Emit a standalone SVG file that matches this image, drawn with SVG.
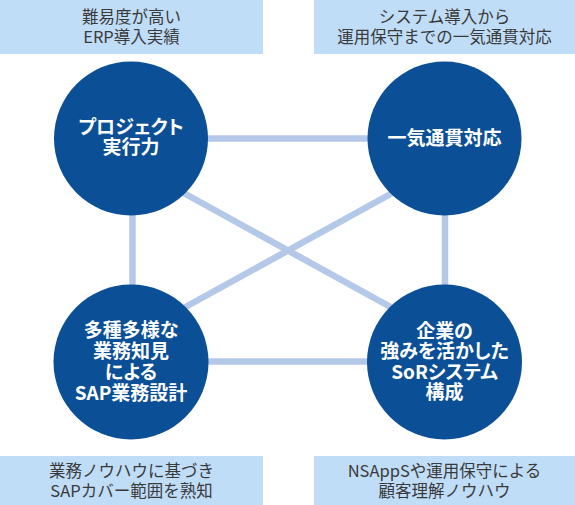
<svg xmlns="http://www.w3.org/2000/svg" width="575" height="505" viewBox="0 0 575 505">
  <style>
    .box { fill: #c0ddf8; }
    .lbl { font-family: "Noto Sans CJK JP", "Noto Sans", sans-serif; font-size: 16.5px; fill: #3a3a3a; text-anchor: middle; }
    .node { fill: #0b4f96; }
    .ntxt { font-family: "Noto Sans CJK JP", "Noto Sans", sans-serif; font-size: 19px; font-weight: bold; fill: #ffffff; text-anchor: middle; font-feature-settings: "palt"; }
    .conn { stroke: #b4c8e8; stroke-width: 6.5; fill: none; }
  </style>
  <rect width="575" height="505" fill="#ffffff"/>

  <g id="label-top-left">
    <rect class="box" x="0" y="0" width="263" height="54"/>
    <text class="lbl" x="131.5" y="22.5">難易度が高い</text>
    <text class="lbl" x="131.5" y="43">ERP導入実績</text>
  </g>
  <g id="label-top-right">
    <rect class="box" x="314" y="0" width="261" height="54"/>
    <text class="lbl" x="444.5" y="22.5">システム導入から</text>
    <text class="lbl" x="444.5" y="43">運用保守までの一気通貫対応</text>
  </g>
  <g id="label-bottom-left">
    <rect class="box" x="0" y="456" width="263" height="49"/>
    <text class="lbl" x="131.5" y="476.5">業務ノウハウに基づき</text>
    <text class="lbl" x="131.5" y="497">SAPカバー範囲を熟知</text>
  </g>
  <g id="label-bottom-right">
    <rect class="box" x="314" y="456" width="261" height="49"/>
    <text class="lbl" x="444.5" y="476.5">NSAppSや運用保守による</text>
    <text class="lbl" x="444.5" y="497">顧客理解ノウハウ</text>
  </g>

  <g id="connectors">
    <line class="conn" x1="131" y1="138.5" x2="445" y2="138.5"/>
    <line class="conn" x1="131" y1="361.5" x2="445" y2="361.5"/>
    <line class="conn" x1="132.5" y1="138.5" x2="132.5" y2="362"/>
    <line class="conn" x1="445" y1="138.5" x2="445" y2="362"/>
    <line class="conn" x1="131" y1="164" x2="445" y2="337"/>
    <line class="conn" x1="445" y1="164" x2="131" y2="337"/>
  </g>

  <g id="node-project">
    <circle class="node" cx="131" cy="138.5" r="77"/>
    <text class="ntxt" x="131" y="133.5">プロジェクト</text>
    <text class="ntxt" x="131" y="154">実行力</text>
  </g>
  <g id="node-ikkan">
    <circle class="node" cx="444.5" cy="138.5" r="77"/>
    <text class="ntxt" x="444.5" y="145">一気通貫対応</text>
  </g>
  <g id="node-sap">
    <circle class="node" cx="131" cy="362" r="77.5"/>
    <text class="ntxt" x="131" y="337">多種多様な</text>
    <text class="ntxt" x="131" y="358">業務知見</text>
    <text class="ntxt" x="131" y="378.5">による</text>
    <text class="ntxt" x="131" y="399.5">SAP業務設計</text>
  </g>
  <g id="node-sor">
    <circle class="node" cx="444.5" cy="362" r="77.5"/>
    <text class="ntxt" x="444.5" y="338">企業の</text>
    <text class="ntxt" x="444.5" y="358">強みを活かした</text>
    <text class="ntxt" x="444.5" y="379">SoRシステム</text>
    <text class="ntxt" x="444.5" y="398.5">構成</text>
  </g>
</svg>
